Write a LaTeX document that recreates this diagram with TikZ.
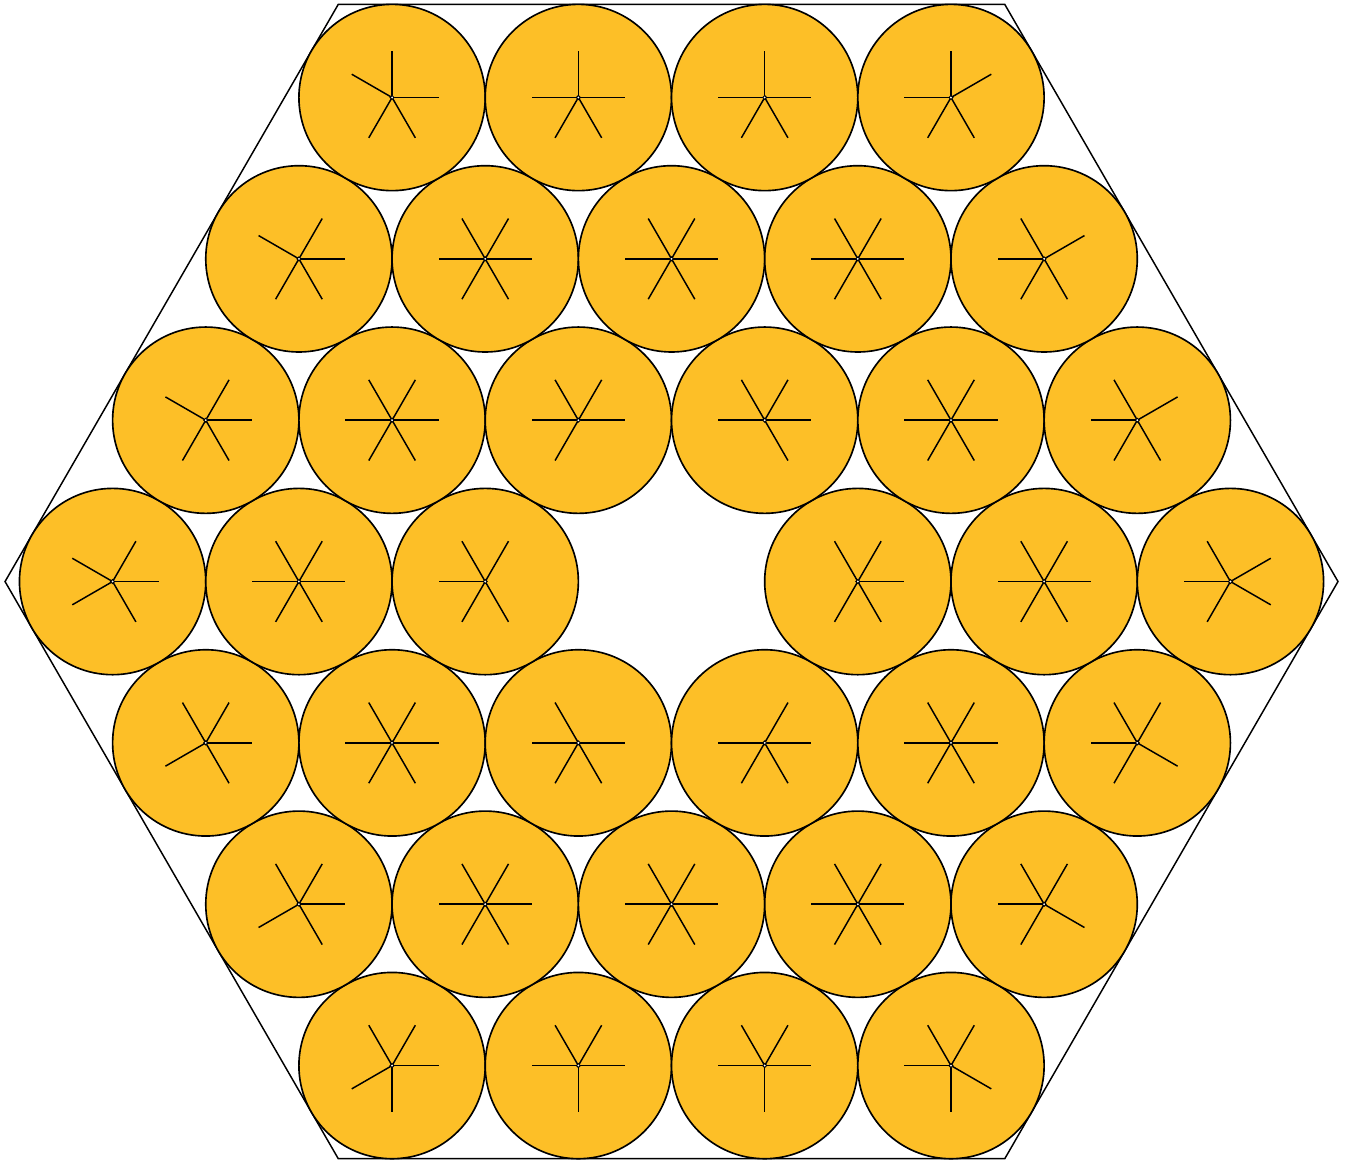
\documentclass[tikz,border=0pt]{standalone}
\usepackage{tikz}
\usetikzlibrary{positioning}

\definecolor{discfill}{RGB}{253,191,39}

\begin{document}
\begin{tikzpicture}[
  x=1cm, y=1cm,
  wall/.style={draw=black, line width=0.45pt},
  disc/.style={circle, draw=black, line width=0.5pt, fill=discfill,
               minimum size=2cm, inner sep=0pt},
  spoke/.style={draw=black, line width=0.45pt},
  hub/.style={circle, draw=black, fill=white, line width=0.3pt,
              minimum size=1.2pt, inner sep=0pt}
]
\useasboundingbox (-7.209,-6.221) rectangle (7.230,6.243);

% hexagonal container
\pgfmathsetmacro\hexR{6+2/sqrt(3)}
\draw[wall] (0:\hexR) -- (60:\hexR) -- (120:\hexR) -- (180:\hexR)
  -- (240:\hexR) -- (300:\hexR) -- cycle;

% discs in axial coordinates (q,s), centre left empty
\foreach \s in {-3,...,3}{
  \pgfmathtruncatemacro\qmin{max(-3,-3-\s)}
  \pgfmathtruncatemacro\qmax{min(3,3-\s)}
  \foreach \q in {\qmin,...,\qmax}{
    \pgfmathtruncatemacro\keep{(\q!=0)||(\s!=0)}
    \ifnum\keep=1
      \node[disc] (c\q s\s) at ({2*\q+\s},{\s*sqrt(3)}) {};
      % spokes towards neighbouring discs
      \foreach \a/\dq/\ds in {0/1/0, 60/0/1, 120/-1/1, 180/-1/0, 240/0/-1, 300/1/-1}{
        \pgfmathtruncatemacro\nq{\q+\dq}
        \pgfmathtruncatemacro\ns{\s+\ds}
        \pgfmathtruncatemacro\ok{(max(abs(\nq),abs(\ns),abs(\nq+\ns))<=3)&&((\nq!=0)||(\ns!=0))}
        \ifnum\ok=1 \draw[spoke] (c\q s\s.center) -- ++(\a:0.5); \fi
      }
      % spokes towards the walls
      \foreach \a/\wq/\ws in {30/1/1, 90/0/1, 150/-1/0, 210/-1/-1, 270/0/-1, 330/1/0}{
        \pgfmathtruncatemacro\ok{(\wq*\q+\ws*\s)==3}
        \ifnum\ok=1 \draw[spoke] (c\q s\s.center) -- ++(\a:0.5); \fi
      }
      \node[hub] at (c\q s\s.center) {};
    \fi
  }
}
\end{tikzpicture}
\end{document}
